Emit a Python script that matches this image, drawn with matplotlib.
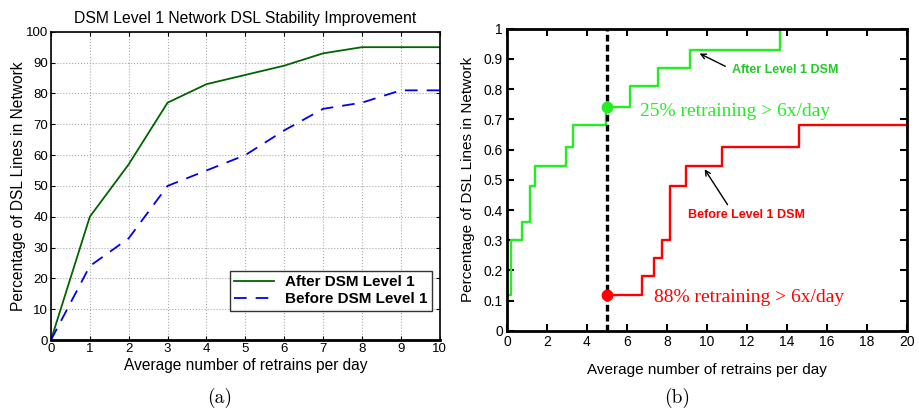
import matplotlib.pyplot as plt
import numpy as np

# (a) average retrains per day vs percentage of lines
retrains = [0, 1, 2, 3, 4, 5, 6, 7, 8, 9, 10]
after_dsm = [0, 40, 57, 77, 83, 86, 89, 93, 95, 95, 95]
before_dsm = [0, 24, 33, 50, 55, 60, 68, 75, 77, 81, 81]

# (b) empirical CDF steps: x where the step happens, level after it
after_x = [0, 0.2, 0.75, 1.17, 1.42, 2.95, 3.3, 4.97, 6.13, 7.53, 9.13, 13.67]
after_y = [0.12, 0.30, 0.36, 0.48, 0.545, 0.61, 0.68, 0.74, 0.81, 0.87, 0.93, 1.0]
before_x = [5.0, 6.75, 7.33, 7.75, 8.17, 8.97, 10.75, 14.58, 20]
before_y = [0.12, 0.18, 0.24, 0.30, 0.48, 0.545, 0.61, 0.68, 0.68]
threshold = 5.0

sans = 'Liberation Sans'
serif = 'Liberation Serif'

fig = plt.figure(figsize=(9.2, 4.11), dpi=100)

# ---- left panel
ax1 = fig.add_axes([0.0554, 0.1727, 0.4225, 0.750])
ax1.plot(retrains, after_dsm, color='#006400', lw=1.3, label='After DSM Level 1')
ax1.plot(retrains, before_dsm, color='#0000ee', lw=1.3, ls=(0, (7, 5)), label='Before DSM Level 1')
ax1.set_xlim(0, 10)
ax1.set_ylim(0, 100)
ax1.set_xticks(range(0, 11))
ax1.set_yticks(range(0, 101, 10))
ax1.grid(True, color='#aaaaaa', ls=':', lw=0.8)
ax1.tick_params(direction='in', top=True, right=True, length=3, labelsize=9.5, pad=2)
for lbl in ax1.get_xticklabels() + ax1.get_yticklabels():
    lbl.set_family(sans)
for s in ax1.spines.values():
    s.set_linewidth(1.2)
ax1.spines['bottom'].set_linewidth(2)
ax1.set_title('DSM Level 1 Network DSL Stability Improvement', family=sans, fontsize=11.3, pad=6)
ax1.set_xlabel('Average number of retrains per day', family=sans, fontsize=11.2, labelpad=2)
ax1.set_ylabel('Percentage of DSL Lines in Network', family=sans, fontsize=11.2, labelpad=0)
leg = ax1.legend(loc='lower right', bbox_to_anchor=(0.98, 0.094), borderaxespad=0,
                 frameon=True, fancybox=False,
                 prop={'family': sans, 'weight': 'bold', 'size': 11},
                 handlelength=2.6, borderpad=0.3, labelspacing=0.2, handletextpad=0.7)
leg.get_frame().set_edgecolor('black')
leg.get_frame().set_linewidth(1.0)

# ---- right panel
ax2 = fig.add_axes([0.551, 0.195, 0.435, 0.735])
ax2.step([0] + after_x, [0] + after_y, where='post', color='#22ee22', lw=1.7)
ax2.step([before_x[0]] + before_x, [before_y[0]] + before_y, where='post', color='#ff0000', lw=1.7)
ax2.axvline(threshold, color='black', lw=2.4, ls=(0, (2.0, 1.0)))
ax2.plot([threshold], [after_y[after_x.index(4.97)]], 'o', color='#22ee22', ms=7.5)
ax2.plot([threshold], [before_y[0]], 'o', color='#ff0000', ms=7.5)
ax2.set_xlim(0, 20)
ax2.set_ylim(0, 1)
ax2.set_xticks(range(0, 21, 2))
ax2.set_yticks(np.round(np.arange(0, 1.01, 0.1), 1))
ax2.set_yticklabels(['0', '0.1', '0.2', '0.3', '0.4', '0.5', '0.6', '0.7', '0.8', '0.9', '1'])
ax2.tick_params(direction='in', top=True, right=True, length=5, width=1.5, labelsize=10, pad=3)
for lbl in ax2.get_xticklabels() + ax2.get_yticklabels():
    lbl.set_family(sans)
for s in ax2.spines.values():
    s.set_linewidth(2)
ax2.set_xlabel('Average number of retrains per day', family=sans, fontsize=11, labelpad=10)
ax2.set_ylabel('Percentage of DSL Lines in Network', family=sans, fontsize=11, labelpad=6)

ax2.annotate('After Level 1 DSM', xy=(9.63, 0.918), xytext=(13.9, 0.865),
             color='#22cc22', fontsize=9, weight='bold', family=sans, ha='center', va='center',
             arrowprops=dict(arrowstyle='->', color='black', lw=1, shrinkA=3, shrinkB=0,
                             relpos=(0, 0.5)))
ax2.annotate('Before Level 1 DSM', xy=(9.88, 0.535), xytext=(11.97, 0.385),
             color='#ff0000', fontsize=9, weight='bold', family=sans, ha='center', va='center',
             arrowprops=dict(arrowstyle='->', color='black', lw=1, shrinkA=1, shrinkB=0,
                             relpos=(0.36, 1)))
ax2.text(11.4, 0.725, '25% retraining > 6x/day', color='#22ee22', family=serif,
         fontsize=14, ha='center', va='center')
ax2.text(12.08, 0.11, '88% retraining > 6x/day', color='#ff0000', family=serif,
         fontsize=14, ha='center', va='center')

# captions
fig.text(220 / 920, 1 - 398 / 411, '(a)', family='cmr10', fontsize=14, ha='center', va='center')
fig.text(677 / 920, 1 - 398 / 411, '(b)', family='cmr10', fontsize=14, ha='center', va='center')

fig.savefig('out.png', dpi=100)
